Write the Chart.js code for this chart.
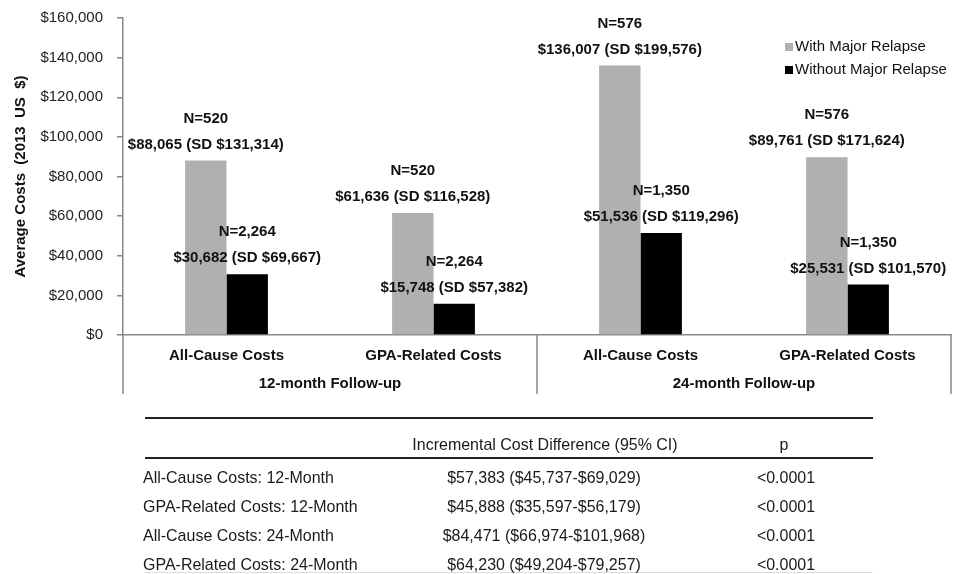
<!DOCTYPE html>
<html>
<head>
<meta charset="utf-8">
<script src="https://cdn.jsdelivr.net/npm/chart.js@4.4.0/dist/chart.umd.min.js"></script>
<style>
  body { margin: 0; background: #fff; }
  #wrap { position: relative; width: 959px; height: 574px; overflow: hidden; }
  #chartBox { position: absolute; left: 0; top: -5px; width: 959px; height: 405px; }
  #tbl { position: absolute; left: 0; top: 0; width: 959px; height: 574px; pointer-events: none;
         font-family: Arial, "Liberation Sans", sans-serif; font-size: 17px; color: #1a1a1a; }
  .cell { position: absolute; white-space: nowrap; line-height: 18px; transform: scaleX(0.94); }
  .hline { position: absolute; left: 145px; width: 728px; background: #222; }
</style>
</head>
<body>
<div id="wrap">
  <div id="chartBox"><canvas id="costChart"></canvas></div>
  <div id="tbl"></div>
</div>
<script>
// chart data
let categories = ['All-Cause Costs', 'GPA-Related Costs', 'All-Cause Costs', 'GPA-Related Costs'];
let groupLabels = ['12-month Follow-up', '24-month Follow-up'];
let withRelapse = [88065, 61636, 136007, 89761];
let withoutRelapse = [30682, 15748, 51536, 25531];
let withN = ['N=520', 'N=520', 'N=576', 'N=576'];
let withoutN = ['N=2,264', 'N=2,264', 'N=1,350', 'N=1,350'];
let withSD = ['$131,314', '$116,528', '$199,576', '$171,624'];
let withoutSD = ['$69,667', '$57,382', '$119,296', '$101,570'];
let yTicks = [0, 20000, 40000, 60000, 80000, 100000, 120000, 140000, 160000];

// table data
let tableHeader = ['', 'Incremental Cost Difference (95% CI)', 'p'];
let tableRows = ['All-Cause Costs: 12-Month', 'GPA-Related Costs: 12-Month', 'All-Cause Costs: 24-Month', 'GPA-Related Costs: 24-Month'];
let tableCI = ['$57,383 ($45,737-$69,029)', '$45,888 ($35,597-$56,179)', '$84,471 ($66,974-$101,968)', '$64,230 ($49,204-$79,257)'];
let tableP = ['<0.0001', '<0.0001', '<0.0001', '<0.0001'];

function money(v){
    return '$' + v.toLocaleString('en-US');
}

let nLabels = [withN, withoutN];
let sdLabels = [withSD, withoutSD];
let valueLists = [withRelapse, withoutRelapse];

let barLabelPlugin = {
    id: 'barLabels',
    afterDatasetsDraw(chart){
        let ctx = chart.ctx;
        ctx.save();
        ctx.font = 'bold 15px Arial, "Liberation Sans", sans-serif';
        ctx.fillStyle = '#111';
        ctx.textAlign = 'center';
        ctx.textBaseline = 'middle';
        chart.data.datasets.forEach(function(ds, d){
            let meta = chart.getDatasetMeta(d);
            meta.data.forEach(function(bar, i){
                ctx.fillText(nLabels[d][i], bar.x, bar.y - 42);
                ctx.fillText(money(valueLists[d][i]) + ' (SD ' + sdLabels[d][i] + ')', bar.x, bar.y - 16);
            });
        });
        ctx.restore();
    }
};

let decoPlugin = {
    id: 'deco',
    afterDraw(chart){
        let ctx = chart.ctx;
        let x = chart.scales.x;
        let area = chart.chartArea;
        let bottom = chart.scales.x2.bottom + 1;
        let mid = (x.getPixelForValue(1) + x.getPixelForValue(2)) / 2;
        ctx.save();
        ctx.strokeStyle = '#888';
        ctx.lineWidth = 1.5;
        [area.left, mid, area.right].forEach(function(px){
            ctx.beginPath();
            ctx.moveTo(px, area.bottom);
            ctx.lineTo(px, bottom);
            ctx.stroke();
        });
        // legend
        ctx.font = '15px Arial, "Liberation Sans", sans-serif';
        ctx.textBaseline = 'middle';
        ctx.textAlign = 'left';
        chart.data.datasets.forEach(function(ds, d){
            let ly = area.top + 29 + d * 23;
            let lx = area.right - 166;
            ctx.fillStyle = ds.backgroundColor;
            ctx.fillRect(lx, ly - 4, 8, 8);
            ctx.fillStyle = '#111';
            ctx.fillText(ds.label, lx + 10, ly);
        });
        ctx.restore();
    }
};

let firstChart = document.getElementById('costChart').getContext('2d');
let myChart = new Chart(firstChart, {
    type: 'bar',
    data: {
        labels: categories,
        datasets: [{
            label: 'With Major Relapse',
            backgroundColor: '#b0b0b0',
            data: withRelapse
        }, {
            label: 'Without Major Relapse',
            backgroundColor: '#000000',
            data: withoutRelapse
        }]
    },
    options: {
        responsive: true,
        maintainAspectRatio: false,
        animation: false,
        layout: { padding: { top: 5, right: 8, bottom: 7, left: 0 } },
        plugins: {
            legend: { display: false },
            tooltip: { enabled: false }
        },
        datasets: { bar: { barPercentage: 1, categoryPercentage: 0.4 } },
        scales: {
            x: {
                grid: { display: false, drawTicks: false },
                border: { color: '#888', width: 1.5 },
                ticks: { color: '#111', padding: 12, font: { family: 'Arial', size: 15, weight: 'bold' } },
                afterFit(s){ s.height = 31; }
            },
            x2: {
                type: 'category',
                labels: groupLabels,
                position: 'bottom',
                offset: true,
                grid: { display: false, drawTicks: false },
                border: { display: false },
                ticks: { color: '#111', padding: 9, font: { family: 'Arial', size: 15, weight: 'bold' } },
                afterFit(s){ s.height = 27; }
            },
            y: {
                min: 0,
                max: 160000,
                afterBuildTicks(s){ s.ticks = yTicks.map(function(v){ return { value: v }; }); },
                grid: { drawOnChartArea: false, drawTicks: true, tickLength: 6, color: '#888', lineWidth: 1.5 },
                border: { color: '#888', width: 1.5 },
                ticks: {
                    color: '#222',
                    padding: 14,
                    font: { family: 'Arial', size: 15 },
                    callback: function(v){ return money(v); }
                },
                title: {
                    display: true,
                    text: 'Average Costs  (2013  US  $)',
                    color: '#111',
                    font: { family: 'Arial', size: 15, weight: 'bold' },
                    padding: { top: 12, bottom: 0 }
                },
                afterFit(s){ s.width = 123; }
            }
        }
    },
    plugins: [barLabelPlugin, decoPlugin]
});

// table below the chart
let tbl = document.getElementById('tbl');
function addCell(text, left, cy, align){
    let el = document.createElement('div');
    el.className = 'cell';
    el.textContent = text;
    el.style.top = (cy - 9) + 'px';
    if(align == 'center'){
        el.style.left = (left - 200) + 'px';
        el.style.width = '400px';
        el.style.textAlign = 'center';
        el.style.transformOrigin = 'center';
    }else{
        el.style.left = left + 'px';
        el.style.transformOrigin = 'left';
    }
    tbl.append(el);
}
function addLine(top, h, color){
    let el = document.createElement('div');
    el.className = 'hline';
    el.style.top = top + 'px';
    el.style.height = h + 'px';
    if(color){ el.style.background = color; }
    tbl.append(el);
}
addLine(417, 2);
addLine(457, 2);
addLine(572, 1, '#ddd');
addCell(tableHeader[1], 545, 445, 'center');
addCell(tableHeader[2], 784, 445, 'center');
for(let i in tableRows){
    let cy = 478 + i * 29;
    addCell(tableRows[i], 143, cy, 'left');
    addCell(tableCI[i], 544, cy, 'center');
    addCell(tableP[i], 786, cy, 'center');
}
</script>
</body>
</html>
